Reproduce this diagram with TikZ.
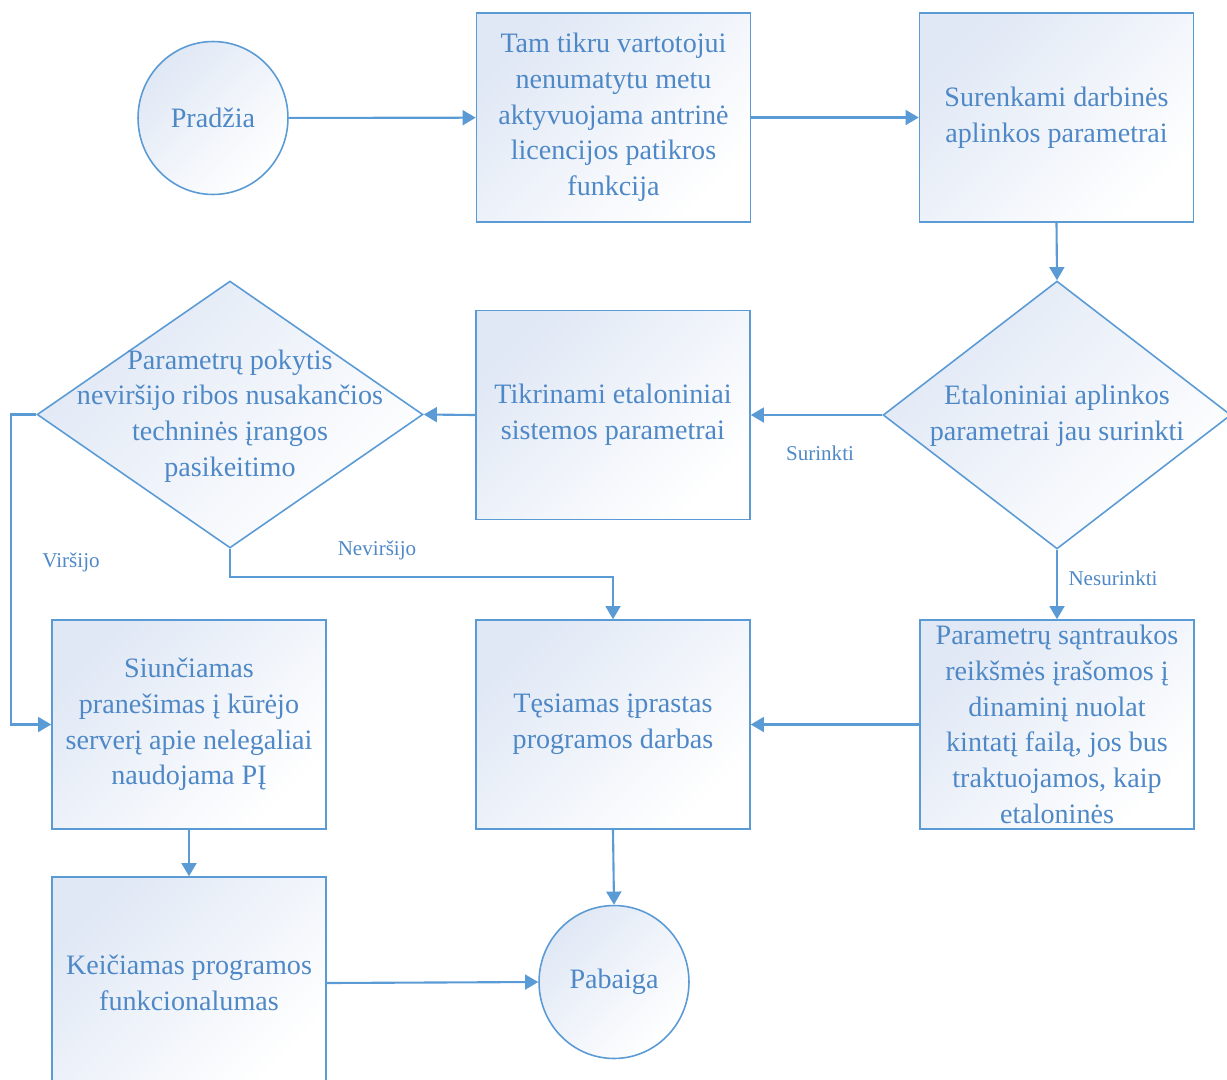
\documentclass[tikz,border=0pt]{standalone}
\usepackage{fontspec}
\setmainfont{Liberation Serif}
\usetikzlibrary{arrows.meta,shapes.geometric}

\definecolor{lineblue}{RGB}{91,155,213}
\definecolor{textblue}{RGB}{78,136,198}
\definecolor{fillblue}{RGB}{224,232,245}

\begin{document}
\begin{tikzpicture}[x=0.02cm, y=-0.02cm,
  softfill/.style={top color=fillblue, bottom color=white, shading angle=45},
  maintext/.style={text=textblue, align=center, font=\fontsize{16pt}{20.3pt}\selectfont},
  proc/.style={rectangle, draw=lineblue, line width=0.9pt, softfill, maintext,
    minimum width=274*0.569pt, minimum height=209*0.569pt, inner sep=0pt},
  term/.style={ellipse, draw=lineblue, line width=0.9pt, softfill, maintext,
    minimum width=150*0.569pt, minimum height=153*0.569pt, inner sep=0pt},
  decision/.style={diamond, draw=lineblue, line width=0.9pt, softfill,
    inner sep=0pt, aspect=1.3},
  lab/.style={text=textblue, font=\fontsize{12pt}{14pt}\selectfont},
  conn/.style={draw=lineblue, line width=1.2pt,
    -{Triangle[length=7.5pt, width=8.5pt]}}
]
\useasboundingbox (0,0) rectangle (1227,1079);
\clip (0,0) rectangle (1227,1079);

% terminals
\node[term] (start) at (213,118) {Pradžia};
\node[term] (end) at (614,982) {Pabaiga};

% process boxes
\node[proc] (b1) at (613.5,117.5) {Tam tikru vartotojui\\nenumatytu metu\\aktyvuojama antrinė\\licencijos patikros\\funkcija};
\node[proc] (b2) at (1056.5,117.5) {Surenkami darbinės\\aplinkos parametrai};
\node[proc] (b3) at (613,415) {Tikrinami etaloniniai\\sistemos parametrai};
\node[proc] (b4) at (189,724.5) {Siunčiamas\\pranešimas į kūrėjo\\serverį apie nelegaliai\\naudojama PĮ};
\node[proc] (b5) at (613,724.5) {Tęsiamas įprastas\\programos darbas};
\node[proc] (b6) at (1057,724.5) {Parametrų sąntraukos\\reikšmės įrašomos į\\dinaminį nuolat\\kintatį failą, jos bus\\traktuojamos, kaip\\etaloninės};
\node[proc, minimum height=212*0.569pt] (b7) at (189,983) {Keičiamas programos\\funkcionalumas};

% decisions
\node[decision, minimum width=348*0.569pt, minimum height=268*0.569pt] (d1) at (1057,415) {};
\node[maintext] (d1t) at (1057,416) {Etaloniniai aplinkos\\parametrai jau surinkti};
\node[decision, minimum width=386*0.569pt, minimum height=267*0.569pt] (d2) at (230,414.5) {};
\node[maintext] (d2t) at (230,416) {Parametrų pokytis\\neviršijo ribos nusakančios\\techninės įrangos\\pasikeitimo};

% branch labels
\node[lab] (l1) at (820,453) {Surinkti};
\node[lab] (l2) at (1113,578) {Nesurinkti};
\node[lab] (l3) at (71,562) {Viršijo};
\node[lab] (l4) at (377,550) {Neviršijo};

% connectors
\draw[conn] (start) -- (b1);
\draw[conn] (b1) -- (b2);
\draw[conn] (b2.south) -- (d1.north);
\draw[conn] (d1.west) -- (b3.east);
\draw[conn] (b3.west) -- (d2.east);
\draw[conn] (d1.south) -- (b6.north);
\draw[conn] (d2.west) -- ++(-25,0) |- (b4.west);
\draw[conn] (d2.south) -- ++(0,28) -| (b5.north);
\draw[conn] (b6.west) -- (b5.east);
\draw[conn] (b4.south) -- (b7.north);
\draw[conn] (b5.south) -- (end.north);
\draw[conn] (b7.east) -- (end.west);
\end{tikzpicture}
\end{document}
